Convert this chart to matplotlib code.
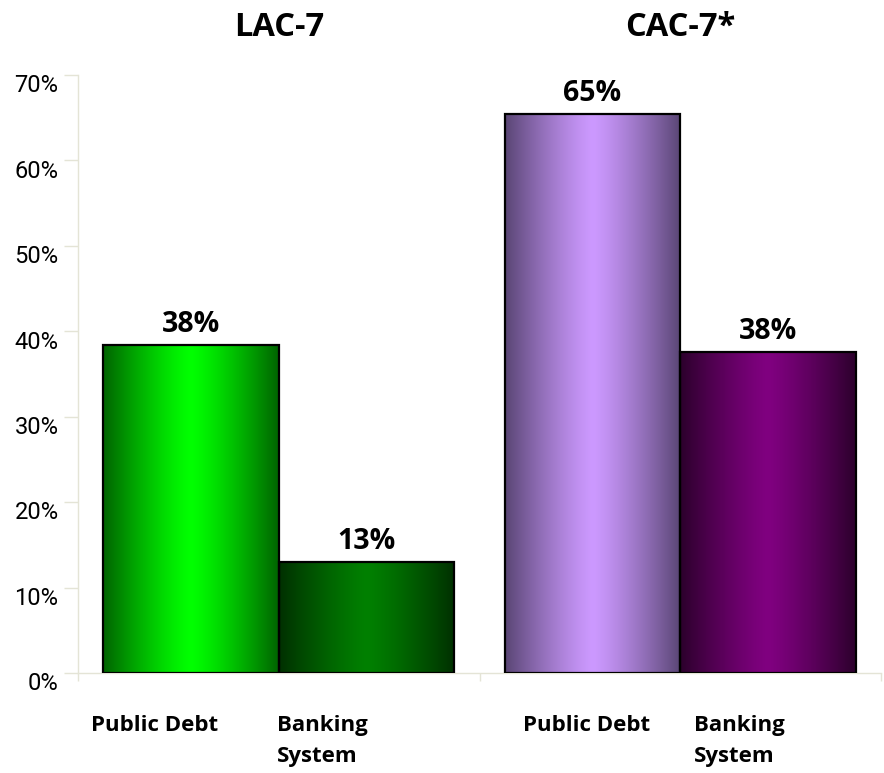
import numpy as np
import matplotlib
matplotlib.use("Agg")
import matplotlib.pyplot as plt
from matplotlib.colors import LinearSegmentedColormap
from matplotlib.transforms import blended_transform_factory, ScaledTranslation

groups = ["LAC-7", "CAC-7*"]
categories = ["Public Debt", "Banking\nSystem"]
lac_values = [38.4, 13.0]
cac_values = [65.4, 37.6]
y_ticks = [0, 10, 20, 30, 40, 50, 60, 70]

# (edge colour, centre colour) for each bar's horizontal shading
shades = [("#006400", "#00ff00"), ("#003000", "#008000"),
          ("#5a4675", "#cc99ff"), ("#2c002c", "#800080")]

group_x = [1.0, 3.0]
bar_w = 0.875
label_x = [0.065, 0.99, 2.215, 3.07]
axis_col = "#e4e4d6"
bold_font = ["Open Sans", "DejaVu Sans"]

fig = plt.figure(figsize=(8.84, 7.73), dpi=100)
ax = fig.add_axes([78 / 884, 100 / 773, 803 / 884, 598 / 773])

values = lac_values + cac_values
lefts = []
for gx in group_x:
    lefts += [gx - bar_w, gx]

u = np.linspace(0, 1, 256)
prof = 1 - np.abs(2 * u - 1) ** 1.25
for i, (x0, v) in enumerate(zip(lefts, values)):
    cmap = LinearSegmentedColormap.from_list("sh%d" % i, list(shades[i]))
    bar = ax.bar(x0, v, width=bar_w, align="edge", facecolor="none",
                 edgecolor="black", linewidth=1.6, zorder=3)[0]
    img = ax.imshow(prof[np.newaxis, :], cmap=cmap, vmin=0, vmax=1,
                    extent=[x0, x0 + bar_w, 0, v], aspect="auto",
                    interpolation="bicubic", zorder=2)
    img.set_clip_path(bar)
    ax.text(x0 + bar_w / 2, v + 0.7, "%d%%" % round(v), ha="center",
            va="bottom", fontsize=20.5, fontweight="bold", family=bold_font)

ax.set_xlim(0, 4)
ax.set_ylim(0, 70)
ax.set_yticks(y_ticks)
ax.set_yticklabels(["%d%%" % t for t in y_ticks],
                   family=["Roboto", "DejaVu Sans"], fontsize=17)
ax.set_xticks([0, 2, 4])
ax.set_xticklabels([])
ax.tick_params(axis="y", length=10, width=1, color=axis_col, pad=4)
ax.tick_params(axis="x", length=6, width=1, color=axis_col)
for s in ["top", "right"]:
    ax.spines[s].set_visible(False)
for s in ["left", "bottom"]:
    ax.spines[s].set_color(axis_col)
    ax.spines[s].set_linewidth(1)

shift = ScaledTranslation(0, -6 / 72, fig.dpi_scale_trans)
for lbl in ax.get_yticklabels():
    lbl.set_transform(lbl.get_transform() + shift)

trans = blended_transform_factory(ax.transData, fig.transFigure)
for gx, g in zip(group_x, groups):
    ax.text(gx, 1 - 36 / 773, g, transform=trans, ha="center", va="baseline",
            fontsize=23.5, fontweight="bold", family=bold_font)

names = categories * len(groups)
for lx, name in zip(label_x, names):
    ax.text(lx, 1 - 715 / 773, name, transform=trans, ha="left", va="top",
            fontsize=16, fontweight="bold", linespacing=1.62,
            family=bold_font)

fig.savefig("out.png", dpi=100)
